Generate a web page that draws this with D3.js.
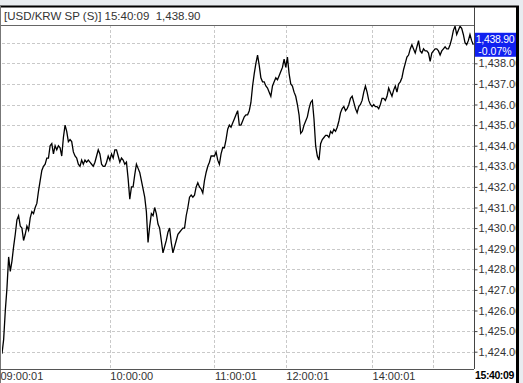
<!DOCTYPE html>
<html>
<head>
<meta charset="utf-8">
<script src="https://cdn.jsdelivr.net/npm/d3@7"></script>
<style>
  html, body { margin: 0; padding: 0; background: #e8ecf0; }
  svg { display: block; font-family: "Liberation Sans", Arial, sans-serif; }
</style>
</head>
<body>
<div id="chart"></div>
<script>
// USD/KRW spot, one value per bar
const prices = [
  1423.9, 1424.6, 1426.0, 1427.1, 1428.6, 1427.9, 1428.4, 1429.1, 1429.7, 1430.4,
  1430.6, 1430.1, 1430.0, 1429.4, 1429.7, 1430.1, 1429.9, 1430.5, 1430.8, 1430.7,
  1431.0, 1431.2, 1431.8, 1432.3, 1432.8, 1433.0, 1433.1, 1433.4, 1433.4, 1434.0,
  1434.1, 1433.6, 1434.0, 1433.8, 1434.0, 1433.9, 1433.5, 1434.4, 1435.0, 1434.7,
  1434.2, 1434.3, 1434.2, 1433.7, 1433.5, 1433.4, 1433.1, 1433.0, 1433.3, 1433.1,
  1433.3, 1433.2, 1433.3, 1433.2, 1433.1, 1433.0, 1433.2, 1433.5, 1433.8, 1433.6,
  1433.1, 1433.0, 1433.0, 1433.2, 1433.5, 1433.3, 1433.6, 1433.4, 1433.8, 1433.8,
  1433.5, 1433.2, 1433.4, 1433.3, 1433.1, 1433.2, 1432.4, 1431.4, 1432.0, 1432.0,
  1432.6, 1433.1, 1432.9, 1432.7, 1432.3, 1431.9, 1431.5, 1430.8, 1429.3, 1430.1,
  1430.7, 1430.6, 1431.0, 1430.7, 1430.2, 1430.0, 1429.4, 1428.8, 1429.1, 1429.4,
  1429.8, 1430.0, 1429.3, 1428.8, 1429.1, 1429.4, 1429.7, 1429.8, 1429.9, 1430.0,
  1430.0, 1430.6, 1431.0, 1431.5, 1431.6, 1431.5, 1431.6, 1432.0, 1432.2, 1432.0,
  1431.9, 1431.7, 1432.3, 1432.7, 1433.0, 1433.2, 1433.5, 1433.5, 1433.5, 1433.7,
  1433.3, 1433.1, 1433.6, 1433.9, 1433.9, 1434.3, 1434.8, 1435.0, 1434.9, 1435.1,
  1435.3, 1435.5, 1435.7, 1435.0, 1435.0, 1435.2, 1435.4, 1435.5, 1435.5, 1435.7,
  1436.1, 1436.9, 1437.5, 1438.0, 1438.4, 1437.9, 1437.3, 1437.1, 1437.1, 1436.9,
  1436.8, 1436.6, 1436.4, 1436.9, 1437.1, 1437.3, 1437.2, 1437.4, 1437.6, 1437.8,
  1438.2, 1437.8, 1438.3, 1437.5, 1437.0, 1436.9, 1436.6, 1436.4, 1436.0, 1435.5,
  1434.6, 1434.7, 1435.0, 1435.2, 1435.4, 1435.8, 1436.1, 1436.2, 1435.3, 1434.0,
  1433.5, 1433.3, 1434.1, 1434.3, 1434.4, 1434.5, 1434.5, 1434.4, 1434.7, 1434.6,
  1434.8, 1434.7, 1434.9, 1435.2, 1435.6, 1435.8, 1435.9, 1435.7, 1435.8, 1436.0,
  1436.3, 1436.4, 1436.1, 1435.8, 1435.6, 1435.9, 1436.0, 1436.2, 1436.6, 1436.9,
  1436.6, 1436.2, 1436.0, 1435.9, 1436.0, 1435.9, 1435.9, 1435.8, 1436.0, 1436.3,
  1436.3, 1436.2, 1436.4, 1436.8, 1436.6, 1436.4, 1436.7, 1436.9, 1436.6, 1437.0,
  1437.1, 1437.3, 1437.7, 1438.0, 1438.3, 1438.4, 1438.7, 1438.9, 1438.7, 1438.5,
  1438.8, 1439.1, 1438.6, 1438.5, 1438.7, 1438.6, 1438.6, 1438.5, 1438.1, 1438.5,
  1438.6, 1438.7, 1438.7, 1438.6, 1438.4, 1438.6, 1438.7, 1438.8, 1438.7, 1438.7,
  1438.9, 1439.2, 1439.6, 1439.8, 1439.4, 1439.6, 1439.8, 1439.7, 1439.4, 1439.0,
  1438.9, 1439.1, 1439.4, 1439.1, 1438.9
];

const timeTickIndex = [0, 65, 128, 171, 223, 260, 284];
const timeLabels = ["09:00:01", "10:00:00", "11:00:01", "12:00:01", "14:00:01", "", "15:40:09"];
const priceTicks = [1424, 1425, 1426, 1427, 1428, 1429, 1430, 1431, 1432, 1433, 1434, 1435, 1436, 1437, 1438, 1439];
const priceLabelTicks = priceTicks.slice(0, -1);

const title = "[USD/KRW SP (S)]";
const lastTime = "15:40:09";
const lastPrice = 1438.90;
const lastChange = "-0.07%";

const width = 523;
const height = 383;
const plot = { left: 2, right: 474, top: 25, bottom: 369 };

const x = d3.scaleLinear()
  .domain([0, prices.length - 1])
  .range([plot.left, 473.3]);

const y = d3.scaleLinear()
  .domain([1423.16, 1439.86])
  .range([plot.bottom, plot.top]);

const fmt = d3.format(",.2f");

const svg = d3.select("#chart")
  .append("svg")
  .attr("width", width)
  .attr("height", height);

// window background + white panel
svg.append("rect")
  .attr("x", 0).attr("y", 0)
  .attr("width", width).attr("height", height)
  .attr("fill", "#e8ecf0");

svg.append("rect")
  .attr("x", 0).attr("y", 6)
  .attr("width", 519).attr("height", height - 6)
  .attr("fill", "#fff");

svg.append("defs").append("clipPath")
  .attr("id", "plot-clip")
  .append("rect")
  .attr("x", plot.left).attr("y", plot.top)
  .attr("width", plot.right - plot.left).attr("height", plot.bottom - plot.top);

// horizontal grid
svg.append("g")
  .selectAll("line")
  .data(priceTicks)
  .enter()
  .append("line")
  .attr("x1", plot.left)
  .attr("x2", plot.right)
  .attr("y1", d => Math.round(y(d)) + 0.5)
  .attr("y2", d => Math.round(y(d)) + 0.5)
  .attr("stroke", "#c9c9c9")
  .attr("stroke-dasharray", "3,2");

// vertical grid (skip first and last tick)
svg.append("g")
  .selectAll("line")
  .data(timeTickIndex.slice(1, -1))
  .enter()
  .append("line")
  .attr("x1", d => Math.round(x(d)) + 0.5)
  .attr("x2", d => Math.round(x(d)) + 0.5)
  .attr("y1", plot.top)
  .attr("y2", plot.bottom)
  .attr("stroke", "#c9c9c9")
  .attr("stroke-dasharray", "3,2");

// price line
const line = d3.line()
  .x((d, i) => x(i))
  .y(d => y(d));

svg.append("path")
  .datum(prices)
  .attr("clip-path", "url(#plot-clip)")
  .attr("d", line)
  .attr("fill", "none")
  .attr("stroke", "#000")
  .attr("stroke-width", 1.3)
  .attr("stroke-linejoin", "miter");

// frame lines
svg.append("line")
  .attr("x1", 0).attr("x2", 519)
  .attr("y1", 6.5).attr("y2", 6.5)
  .attr("stroke", "#000").attr("stroke-width", 2);

svg.append("line")
  .attr("x1", 1).attr("x2", plot.right)
  .attr("y1", plot.top + 0.5).attr("y2", plot.top + 0.5)
  .attr("stroke", "#666");

svg.append("line")
  .attr("x1", 0.5).attr("x2", 0.5)
  .attr("y1", 6).attr("y2", height)
  .attr("stroke", "#777");

svg.append("line")
  .attr("x1", plot.right + 0.5).attr("x2", plot.right + 0.5)
  .attr("y1", 7).attr("y2", plot.bottom)
  .attr("stroke", "#444");

svg.append("line")
  .attr("x1", 0).attr("x2", plot.right)
  .attr("y1", plot.bottom + 0.5).attr("y2", plot.bottom + 0.5)
  .attr("stroke", "#555");

// right price axis
const yAxis = d3.axisRight(y)
  .tickValues(priceLabelTicks)
  .tickSize(3)
  .tickPadding(1)
  .tickFormat(fmt);

const yAxisG = svg.append("g")
  .attr("transform", `translate(${plot.right + 0.5},0)`)
  .call(yAxis);

yAxisG.select(".domain").remove();
yAxisG.selectAll(".tick line").attr("stroke", "#444");
yAxisG.selectAll(".tick text")
  .attr("font-size", 11)
  .attr("font-family", "Liberation Sans, Arial, sans-serif")
  .attr("fill", "#333");

// bottom time axis
const xAxis = d3.axisBottom(x)
  .tickValues(timeTickIndex)
  .tickSize(0)
  .tickPadding(3)
  .tickFormat((d, i) => timeLabels[i]);

const xAxisG = svg.append("g")
  .attr("transform", `translate(0,${plot.bottom})`)
  .call(xAxis);

xAxisG.select(".domain").remove();
xAxisG.selectAll(".tick text")
  .attr("text-anchor", "start")
  .attr("dx", 0)
  .attr("font-size", 11)
  .attr("font-family", "Liberation Sans, Arial, sans-serif")
  .attr("fill", "#333");

// first label sits on the frame edge, last label lives in the axis column
xAxisG.selectAll(".tick")
  .filter((d, i) => i === 0)
  .select("text")
  .attr("x", -2);

xAxisG.selectAll(".tick")
  .filter((d, i) => i === timeTickIndex.length - 1)
  .attr("transform", `translate(${plot.right + 1},0)`)
  .select("text")
  .attr("font-weight", "bold")
  .attr("font-size", 10.5)
  .attr("letter-spacing", -0.4)
  .attr("fill", "#000");

// last price marker
const boxY = y(lastPrice);
svg.append("rect")
  .attr("x", plot.right + 1)
  .attr("y", boxY - 12)
  .attr("width", 42)
  .attr("height", 24)
  .attr("fill", "#1020f0");

svg.append("text")
  .attr("x", plot.right + 21)
  .attr("y", boxY - 2)
  .attr("text-anchor", "middle")
  .attr("font-size", 10.5)
  .attr("letter-spacing", -0.3)
  .attr("fill", "#fff")
  .text(fmt(lastPrice));

svg.append("text")
  .attr("x", plot.right + 21)
  .attr("y", boxY + 10)
  .attr("text-anchor", "middle")
  .attr("font-size", 10.5)
  .attr("fill", "#fff")
  .text(lastChange);

// header
svg.append("text")
  .attr("x", 4)
  .attr("y", 20)
  .attr("font-size", 11.5)
  .attr("fill", "#333")
  .attr("xml:space", "preserve")
  .text(`${title} ${lastTime}  ${fmt(lastPrice)}`);

// right border covers the clipped label ends
svg.append("rect")
  .attr("x", 516).attr("y", 6)
  .attr("width", 3).attr("height", height - 6)
  .attr("fill", "#000");

svg.append("rect")
  .attr("x", 519).attr("y", 0)
  .attr("width", 4).attr("height", height)
  .attr("fill", "#e8ecf0");
</script>
</body>
</html>
